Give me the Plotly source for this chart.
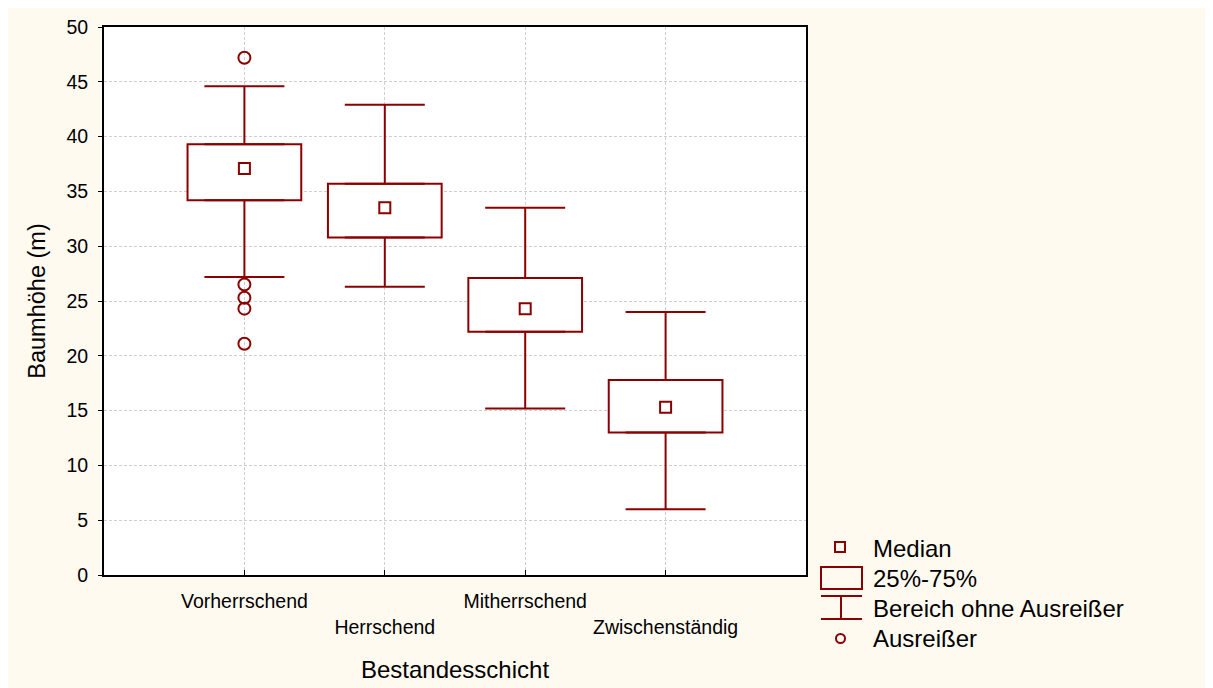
import plotly.graph_objects as go

# ---- data ----
categories = ["Vorherrschend", "Herrschend", "Mitherrschend", "Zwischenständig"]
tick_labels = ["Vorherrschend", "<br>Herrschend", "Mitherrschend", "<br>Zwischenständig"]
lower_whisker = [27.2, 26.3, 15.2, 6.0]
q1 = [34.2, 30.8, 22.2, 13.0]
median = [37.1, 33.5, 24.3, 15.3]
q3 = [39.3, 35.7, 27.1, 17.8]
upper_whisker = [44.6, 42.9, 33.5, 24.0]
outlier_cat = ["Vorherrschend"] * 5
outlier_y = [47.2, 26.5, 25.3, 24.3, 21.1]

legend_labels = ["Median", "25%-75%", "Bereich ohne Ausreißer", "Ausreißer"]

# ---- style ----
RED = "#8B0000"
CREAM = "#FFFAF0"
GRID = "#cfcfcf"
OFF = 8                      # page offset of the figure (body margin)
W, H = 1213 - OFF, 688 - OFF
# plot area in page pixels
PL, PR, PT, PB = 104, 806, 27, 575
L, R, T, B = PL - OFF, PR - OFF, PT - OFF, PB - OFF

xpos = list(range(len(categories)))
cat_index = {c: i for i, c in enumerate(categories)}
out_x = [cat_index[c] for c in outlier_cat]


def px_x(p):
    """page pixel x -> paper coordinate"""
    return (p - PL) / (PR - PL)


def px_y(p):
    """page pixel y -> paper coordinate"""
    return (PB - p) / (PB - PT)


fig = go.Figure()

# boxes (25%-75%)
fig.add_trace(go.Bar(
    x=xpos, y=[b - a for a, b in zip(q1, q3)], base=q1, width=0.81,
    marker=dict(color="white", line=dict(color=RED, width=2)),
    showlegend=False, hoverinfo="skip"))

# upper whiskers
fig.add_trace(go.Scatter(
    x=xpos, y=q3, mode="markers",
    marker=dict(size=1, color="rgba(0,0,0,0)"),
    error_y=dict(type="data", symmetric=False,
                 array=[u - a for u, a in zip(upper_whisker, q3)],
                 arrayminus=[0] * len(q3), width=40, thickness=2, color=RED),
    showlegend=False, hoverinfo="skip"))

# lower whiskers
fig.add_trace(go.Scatter(
    x=xpos, y=q1, mode="markers",
    marker=dict(size=1, color="rgba(0,0,0,0)"),
    error_y=dict(type="data", symmetric=False,
                 array=[0] * len(q1),
                 arrayminus=[a - l for a, l in zip(q1, lower_whisker)],
                 width=40, thickness=2, color=RED),
    showlegend=False, hoverinfo="skip"))

# medians
fig.add_trace(go.Scatter(
    x=xpos, y=median, mode="markers",
    marker=dict(symbol="square-open", size=11, color=RED, line=dict(width=2, color=RED)),
    showlegend=False))

# outliers
fig.add_trace(go.Scatter(
    x=out_x, y=outlier_y, mode="markers",
    marker=dict(symbol="circle-open", size=12, color=RED, line=dict(width=2, color=RED)),
    showlegend=False))

shapes = []
# custom legend glyphs
shapes.append(dict(type="rect", xref="paper", yref="paper",
                   x0=px_x(835), x1=px_x(845), y0=px_y(552), y1=px_y(542),
                   line=dict(color=RED, width=2)))
shapes.append(dict(type="rect", xref="paper", yref="paper",
                   x0=px_x(821), x1=px_x(862), y0=px_y(589), y1=px_y(567),
                   line=dict(color=RED, width=2)))
for yy in (596, 619):
    shapes.append(dict(type="line", xref="paper", yref="paper",
                       x0=px_x(821), x1=px_x(862), y0=px_y(yy), y1=px_y(yy),
                       line=dict(color=RED, width=2)))
shapes.append(dict(type="line", xref="paper", yref="paper",
                   x0=px_x(841), x1=px_x(841), y0=px_y(596), y1=px_y(619),
                   line=dict(color=RED, width=2)))
shapes.append(dict(type="circle", xref="paper", yref="paper",
                   x0=px_x(836), x1=px_x(845), y0=px_y(643), y1=px_y(634),
                   line=dict(color=RED, width=2)))

annotations = []
for lab, yy in zip(legend_labels, [548, 578, 608, 638]):
    annotations.append(dict(text=lab, xref="paper", yref="paper",
                            x=px_x(871), y=px_y(yy), xanchor="left", yanchor="middle",
                            showarrow=False, font=dict(size=24, color="black")))

fig.update_layout(
    template="none",
    width=W, height=H,
    margin=dict(l=L, r=W - R, t=T, b=H - B, pad=0, autoexpand=False),
    paper_bgcolor=CREAM, plot_bgcolor="white",
    font=dict(family="Liberation Sans, Arial, sans-serif", color="black"),
    shapes=shapes, annotations=annotations,
    showlegend=False,
    xaxis=dict(range=[-1, 4], tickmode="array", tickvals=xpos, ticktext=tick_labels,
               tickfont=dict(size=19.5), ticks="inside", ticklen=5, tickcolor="black",
               showline=True, linecolor="black", linewidth=2, mirror=True,
               showgrid=True, gridcolor=GRID, griddash="3px,2px", gridwidth=1,
               zeroline=False, ticklabelstandoff=8, automargin=False,
               title=dict(text="Bestandesschicht", font=dict(size=24), standoff=24)),
    yaxis=dict(range=[0, 50], dtick=5, tickfont=dict(size=19.5),
               ticks="outside", ticklen=4, tickcolor="black",
               showline=True, linecolor="black", linewidth=2, mirror=True,
               showgrid=True, gridcolor=GRID, griddash="3px,2px", gridwidth=1,
               zeroline=False, ticklabelstandoff=6, automargin=False,
               title=dict(text="Baumhöhe (m)", font=dict(size=23.5), standoff=14)),
    xaxis2=dict(overlaying="x", side="top", range=[-1, 4], tickmode="array",
                tickvals=xpos, ticks="inside", ticklen=5, tickcolor="black",
                showticklabels=False, showgrid=False, zeroline=False, showline=False,
                automargin=False),
    yaxis2=dict(overlaying="y", side="right", range=[0, 50], dtick=5,
                ticks="inside", ticklen=5, tickcolor="black",
                showticklabels=False, showgrid=False, zeroline=False, showline=False,
                automargin=False),
)

fig.write_html("out.html")
